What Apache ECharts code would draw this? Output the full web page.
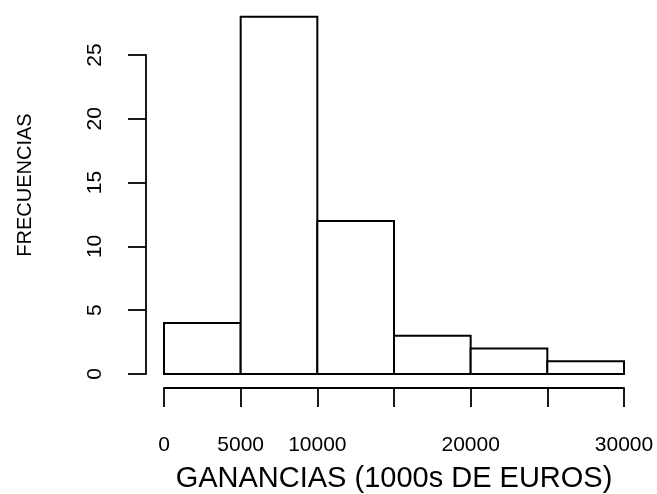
<!DOCTYPE html>
<html><head><meta charset="utf-8">
<script src="https://cdn.jsdelivr.net/npm/echarts@6/dist/echarts.min.js"></script>
<style>html,body{margin:0;padding:0;background:#fff}#c{width:657px;height:494px}</style>
</head><body><div id="c"></div>
<script>
var binStarts = [0, 5000, 10000, 15000, 20000, 25000];
var binEnds = [5000, 10000, 15000, 20000, 25000, 30000];
var counts = [4, 28, 12, 3, 2, 1];
var xTickLabels = {0:'0', 5000:'5000', 10000:'10000', 20000:'20000', 30000:'30000'};
var yTicks = [0, 5, 10, 15, 20, 25];

var data = binStarts.map(function(s, i){ return [s, binEnds[i], counts[i]]; });
var font = 'Liberation Sans, Arial, Helvetica, sans-serif';
var chart = echarts.init(document.getElementById('c'), null, {renderer:'canvas'});
chart.setOption({
  animation: false,
  backgroundColor: '#fff',
  grid: {left: 164, right: 33, top: 55, bottom: 120, containLabel: false, outerBoundsMode: 'none'},
  xAxis: {
    type: 'value', min: 0, max: 30000, interval: 5000,
    offset: 14,
    splitLine: {show: false},
    axisLine: {show: true, onZero: false, lineStyle: {color: '#000', width: 1.8}},
    axisTick: {show: true, length: 19, lineStyle: {color: '#000', width: 1.8}},
    axisLabel: {show: true, margin: 47, color: '#000', fontSize: 21, fontFamily: font,
      formatter: function(v){ return xTickLabels[v] !== undefined ? xTickLabels[v] : ''; }},
    name: 'GANANCIAS (1000s DE EUROS)', nameLocation: 'middle', nameGap: 76,
    nameTextStyle: {color: '#000', fontSize: 29, fontFamily: font}
  },
  yAxis: {
    type: 'value', min: 0, max: 25, interval: 5,
    offset: 18,
    splitLine: {show: false},
    axisLine: {show: true, onZero: false, lineStyle: {color: '#000', width: 1.8}},
    axisTick: {show: true, length: 18, lineStyle: {color: '#000', width: 1.8}},
    axisLabel: {show: true, rotate: 90, margin: 40, color: '#000', fontSize: 21, fontFamily: font,
      formatter: function(v){ return yTicks.indexOf(v) >= 0 ? String(v) : ''; }},
    name: 'FRECUENCIAS', nameLocation: 'middle', nameGap: 111, nameRotate: 90,
    nameTextStyle: {color: '#000', fontSize: 20, fontFamily: font, padding: [0, 0, 0, 59]}
  },
  series: [{
    type: 'custom',
    clip: false,
    data: data,
    renderItem: function(params, api){
      var p0 = api.coord([api.value(0), 0]);
      var p1 = api.coord([api.value(1), api.value(2)]);
      return {
        type: 'rect',
        shape: {x: p0[0], y: p1[1], width: p1[0]-p0[0], height: p0[1]-p1[1]},
        style: {fill: '#fff', stroke: '#000', lineWidth: 2}
      };
    }
  }]
});
</script></body></html>
